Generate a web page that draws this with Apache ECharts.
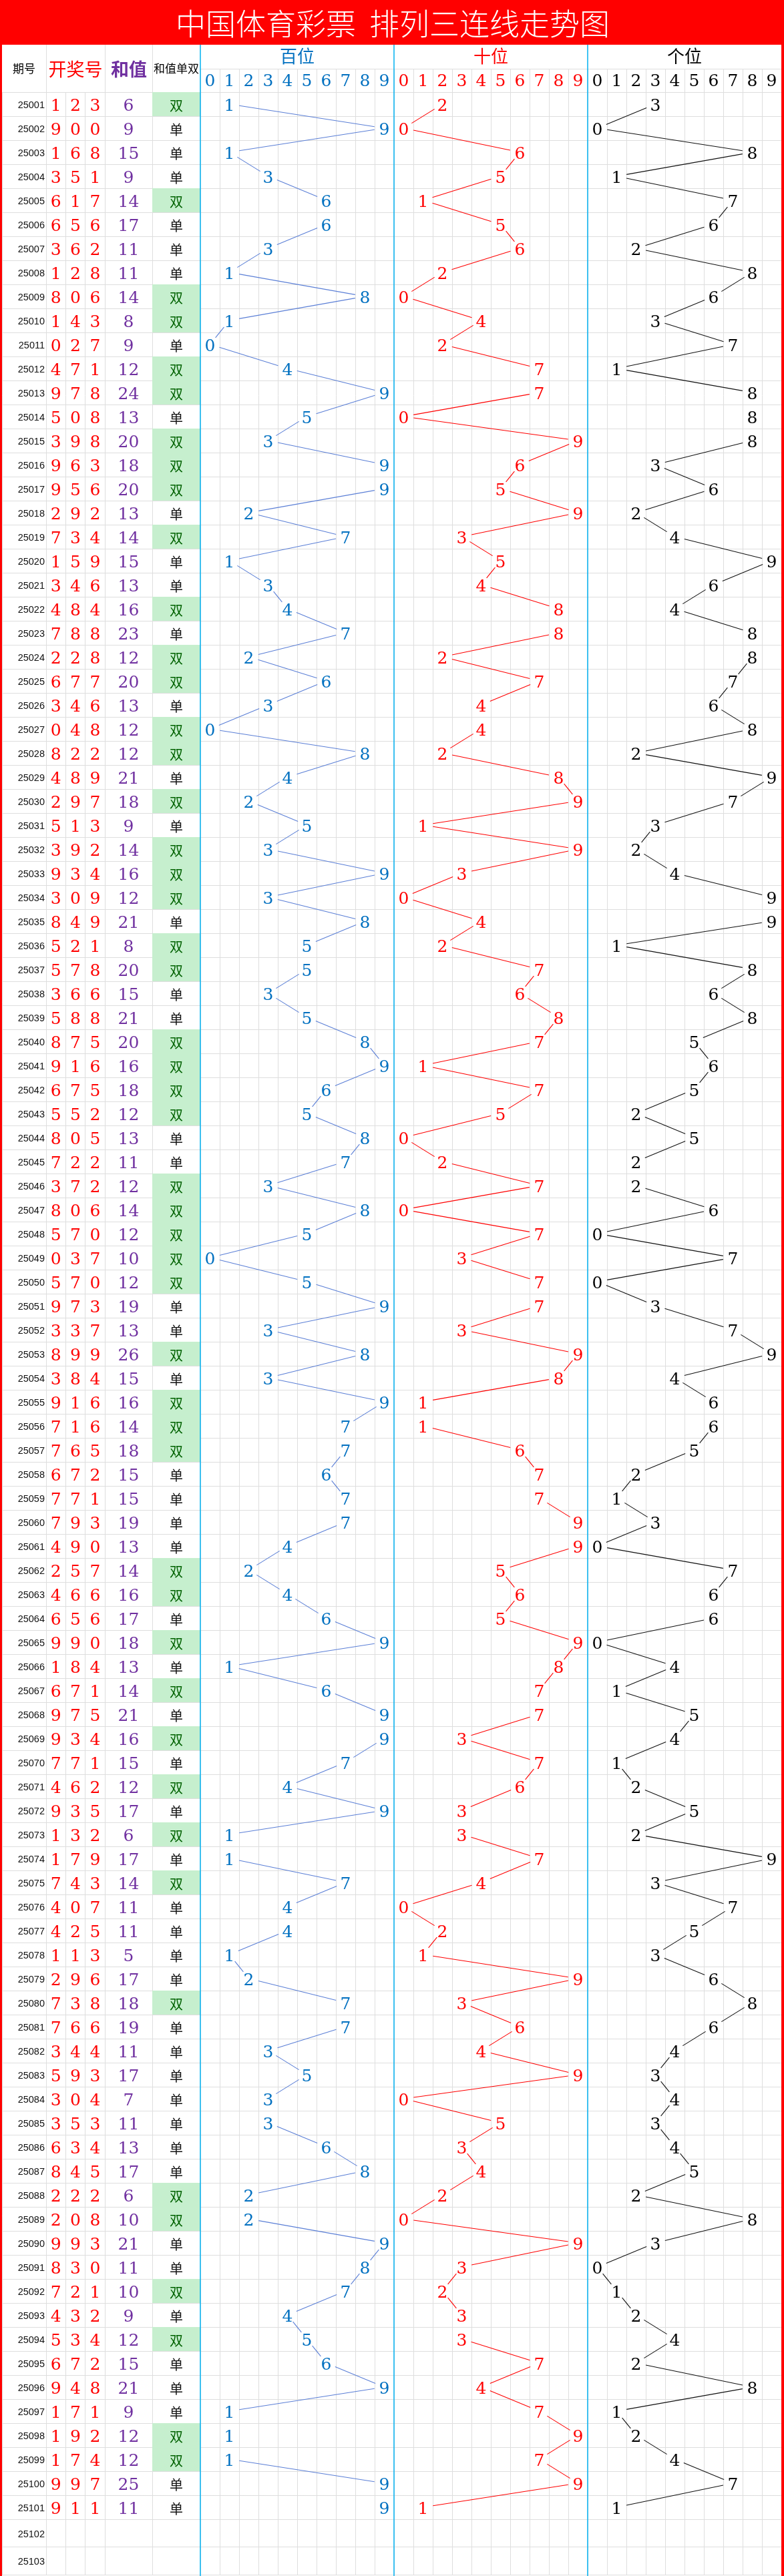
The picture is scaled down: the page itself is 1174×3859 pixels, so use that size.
<!DOCTYPE html>
<html>
<head>
<meta charset="utf-8">
<script src="https://cdn.jsdelivr.net/npm/echarts@6/dist/echarts.min.js"></script>
<style>
html,body{margin:0;padding:0;background:#ffffff;}
#c{width:1174px;height:3859px;}
</style>
</head>
<body>
<div id="c"></div>
<script>
// ---------------- DATA ----------------
const issues = [
'25001','25002','25003','25004','25005','25006','25007','25008','25009','25010',
'25011','25012','25013','25014','25015','25016','25017','25018','25019','25020',
'25021','25022','25023','25024','25025','25026','25027','25028','25029','25030',
'25031','25032','25033','25034','25035','25036','25037','25038','25039','25040',
'25041','25042','25043','25044','25045','25046','25047','25048','25049','25050',
'25051','25052','25053','25054','25055','25056','25057','25058','25059','25060',
'25061','25062','25063','25064','25065','25066','25067','25068','25069','25070',
'25071','25072','25073','25074','25075','25076','25077','25078','25079','25080',
'25081','25082','25083','25084','25085','25086','25087','25088','25089','25090',
'25091','25092','25093','25094','25095','25096','25097','25098','25099','25100',
'25101','25102','25103'
];
const hundreds = [
1,9,1,3,6,6,3,1,8,1, 0,4,9,5,3,9,9,2,7,1, 3,4,7,2,6,3,0,8,4,2,
5,3,9,3,8,5,5,3,5,8, 9,6,5,8,7,3,8,5,0,5, 9,3,8,3,9,7,7,6,7,7,
4,2,4,6,9,1,6,9,9,7, 4,9,1,1,7,4,4,1,2,7, 7,3,5,3,3,6,8,2,2,9,
8,7,4,5,6,9,1,1,1,9, 9
];
const tens = [
2,0,6,5,1,5,6,2,0,4, 2,7,7,0,9,6,5,9,3,5, 4,8,8,2,7,4,4,2,8,9,
1,9,3,0,4,2,7,6,8,7, 1,7,5,0,2,7,0,7,3,7, 7,3,9,8,1,1,6,7,7,9,
9,5,6,5,9,8,7,7,3,7, 6,3,3,7,4,0,2,1,9,3, 6,4,9,0,5,3,4,2,0,9,
3,2,3,3,7,4,7,9,7,9, 1
];
const units = [
3,0,8,1,7,6,2,8,6,3, 7,1,8,8,8,3,6,2,4,9, 6,4,8,8,7,6,8,2,9,7,
3,2,4,9,9,1,8,6,8,5, 6,5,2,5,2,2,6,0,7,0, 3,7,9,4,6,6,5,2,1,3,
0,7,6,6,0,4,1,5,4,1, 2,5,2,9,3,7,5,3,6,8, 6,4,3,4,3,4,5,2,8,3,
0,1,2,4,2,8,1,2,4,7, 1
];
const sums = [
6,9,15,9,14,17,11,11,14,8, 9,12,24,13,20,18,20,13,14,15, 13,16,23,12,20,13,12,12,21,18,
9,14,16,12,21,8,20,15,21,20, 16,18,12,13,11,12,14,12,10,12, 19,13,26,15,16,14,18,15,15,19,
13,14,16,17,18,13,14,21,16,15, 12,17,6,17,14,11,11,5,17,18, 19,11,17,7,11,13,17,6,10,21,
11,10,9,12,15,21,9,12,12,25, 11
];
const parity = (
'双单单单双单单单双双' + '单双双单双双双单双单' + '单双单双双单双双单双' +
'单双双双单双双单单双' + '双双双单单双双双双双' + '单单双单双双双单单单' +
'单双双单双单双单双单' + '双单双单双单单单单双' + '单单单单单单单双双单' +
'单双单双单单单双双单' + '单').split('');
const digitTicks = ['0','1','2','3','4','5','6','7','8','9'];
const titleText = '中国体育彩票  排列三连线走势图';
const headers = { issue:'期号', draw:'开奖号', sum:'和值', parity:'和值单双', pos:['百位','十位','个位'] };

// ---------------- STYLE / LAYOUT ----------------
const GRID_C = '#DEDEDE';
const SEP_C = '#00B0F0';
const SERIF = '"DejaVu Serif", "Liberation Serif", serif';
const CJK = '"Noto Sans CJK SC", "Noto Sans", sans-serif';
const panelText = ['#0070C0', '#FF0000', '#000000'];
const panelLine = ['#5B7FD6', '#FF0000', '#111111'];
const LAYOUT = [
  {left:3, width:66}, {left:69, width:88}, {left:157, width:71}, {left:228, width:72},
  {left:300, width:290}, {left:590, width:290}, {left:880, width:290}
];
const colCats = [['期号'], ['百','十','个'], ['和值'], ['单双'], digitTicks, digitTicks, digitTicks];
const nBody = hundreds.length;
const BANDS = [
  {top:138, height:36 * nBody, rows: issues.slice(0, nBody)},
  {top:138 + 36 * nBody, height:83, rows: issues.slice(nBody)}
];

const grid = [], xAxis = [], yAxis = [];
BANDS.forEach((b, bi) => LAYOUT.forEach((c, ci) => {
  const gi = grid.length;
  const head = bi === 0 && ci >= 4;
  grid.push({left:c.left, top:b.top, width:c.width, height:b.height, containLabel:false, show:false});
  xAxis.push({
    gridIndex: gi, type:'category', data: colCats[ci], position:'top', boundaryGap:true,
    axisLine:{show:false},
    axisTick:{show:head, interval:0, length:35, lineStyle:{color:GRID_C, width:1}},
    axisLabel:{show:head, interval:0, margin:3, color: head ? panelText[ci-4] : '#000',
               fontFamily: SERIF, fontSize:25},
    splitLine:{show:true, interval:0, lineStyle:{color:GRID_C, width:1}}
  });
  yAxis.push({
    gridIndex: gi, type:'category', data: b.rows, inverse:true, boundaryGap:true,
    axisLine:{show:false}, axisTick:{show:false}, axisLabel:{show:false},
    splitLine:{show:true, interval:0, lineStyle:{color:GRID_C, width:1}}
  });
}));
const G = (band, col) => band * LAYOUT.length + col;

function textSeries(gi, data, getText, opt) {
  return {
    type:'custom', xAxisIndex:gi, yAxisIndex:gi, data, silent:true, z:5, animation:false,
    renderItem(params, api) {
      const p = api.coord([api.value(0), api.value(1)]);
      const s = api.size([1, 1]);
      let x = p[0], align = 'center';
      if (opt.right) { x = p[0] + s[0] / 2 - opt.right; align = 'right'; }
      return {
        type:'text', x: x, y: p[1] + (opt.dy || 0),
        style:{ text: getText(params.dataIndex), fill: opt.color(params.dataIndex),
                fontSize: opt.size, fontFamily: opt.family, fontWeight: opt.weight || 'normal',
                align: align, verticalAlign:'middle' }
      };
    }
  };
}

const series = [];
// issue column (body + footer)
series.push(textSeries(G(0,0), BANDS[0].rows.map((s,i)=>[0,i]), i=>BANDS[0].rows[i],
  {right:2, dy:2, size:14.5, family:'"Liberation Sans", Arial, sans-serif', color:()=>'#111'}));
series.push(textSeries(G(1,0), BANDS[1].rows.map((s,i)=>[0,i]), i=>BANDS[1].rows[i],
  {right:2, dy:2, size:14.5, family:'"Liberation Sans", Arial, sans-serif', color:()=>'#111'}));
// draw digits
const drawCells = [];
const drawText = [];
[hundreds, tens, units].forEach((arr, j) => arr.forEach((d, i) => { drawCells.push([j, i]); drawText.push(String(d)); }));
series.push(textSeries(G(0,1), drawCells, i=>drawText[i],
  {dy:3, size:25, family:SERIF, color:()=>'#FF0000'}));
// sums
series.push(textSeries(G(0,2), sums.map((v,i)=>[0,i]), i=>String(sums[i]),
  {dy:3, size:25, family:SERIF, color:()=>'#7030A0'}));
// parity with fill
series.push({
  type:'custom', xAxisIndex:G(0,3), yAxisIndex:G(0,3), silent:true, z:4, animation:false,
  data: parity.map((v,i)=>[0,i]),
  renderItem(params, api) {
    const p = api.coord([api.value(0), api.value(1)]);
    const s = api.size([1, 1]);
    const v = parity[params.dataIndex];
    const even = v === '双';
    const children = [];
    if (even) children.push({type:'rect', shape:{x:p[0]-s[0]/2, y:p[1]-s[1]/2, width:s[0], height:s[1]},
                              style:{fill:'#C6EFCE'}});
    children.push({type:'text', x:p[0], y:p[1]+2,
      style:{text:v, fill: even ? '#006100' : '#111', fontSize:20, fontFamily:CJK, align:'center', verticalAlign:'middle'}});
    return {type:'group', children};
  }
});
// trend panels
[hundreds, tens, units].forEach((arr, k) => {
  const gi = G(0, 4 + k);
  series.push({
    type:'custom', xAxisIndex:gi, yAxisIndex:gi, silent:true, z:3, animation:false,
    data: arr.slice(0, -1).map((d, i) => [d, i, arr[i+1], i+1]),
    renderItem(params, api) {
      const a = api.coord([api.value(0), api.value(1)]);
      const b = api.coord([api.value(2), api.value(3)]);
      const dx = b[0]-a[0], dy = b[1]-a[1];
      if (Math.abs(dx) < 0.5) return null;
      const len = Math.hypot(dx, dy), ux = dx/len, uy = dy/len;
      const rx = 15, ry = 12;
      const t = 1 / Math.sqrt((ux/rx)*(ux/rx) + (uy/ry)*(uy/ry));
      return {type:'line',
        shape:{x1:a[0]+ux*t, y1:a[1]+uy*t, x2:b[0]-ux*t, y2:b[1]-uy*t},
        style:{stroke: panelLine[k], lineWidth:1.1}};
    }
  });
  series.push(textSeries(gi, arr.map((d,i)=>[d,i]), i=>String(arr[i]),
    {dy:3, size:25, family:SERIF, color:()=>panelText[k]}));
});

// ---------------- DECORATION ----------------
const graphic = [
  {type:'rect', z:20, shape:{x:0, y:0, width:1174, height:67}, style:{fill:'#FF0000'}},
  {type:'rect', z:20, shape:{x:0, y:0, width:3, height:3859}, style:{fill:'#FF0000'}},
  {type:'rect', z:20, shape:{x:1170, y:0, width:4, height:3859}, style:{fill:'#FF0000'}},
  {type:'text', z:21, x:588, y:36, style:{text:titleText, fill:'#FFFFFF', fontSize:45, fontFamily:CJK, fontWeight:300, align:'center', verticalAlign:'middle'}},
  {type:'line', z:10, shape:{x1:300, y1:103.5, x2:1170, y2:103.5}, style:{stroke:GRID_C, lineWidth:1}},
  {type:'line', z:10, shape:{x1:69.5, y1:67, x2:69.5, y2:138}, style:{stroke:GRID_C, lineWidth:1}},
  {type:'line', z:10, shape:{x1:157.5, y1:67, x2:157.5, y2:138}, style:{stroke:GRID_C, lineWidth:1}},
  {type:'line', z:10, shape:{x1:228.5, y1:67, x2:228.5, y2:138}, style:{stroke:GRID_C, lineWidth:1}},
  {type:'line', z:15, shape:{x1:300, y1:67, x2:300, y2:3859}, style:{stroke:SEP_C, lineWidth:1.5}},
  {type:'line', z:15, shape:{x1:590, y1:67, x2:590, y2:3859}, style:{stroke:SEP_C, lineWidth:1.5}},
  {type:'line', z:15, shape:{x1:880, y1:67, x2:880, y2:3859}, style:{stroke:SEP_C, lineWidth:1.5}},
  {type:'text', z:11, x:36, y:103, style:{text:headers.issue, fill:'#000', fontSize:17, fontFamily:CJK, align:'center', verticalAlign:'middle'}},
  {type:'text', z:11, x:113, y:104, style:{text:headers.draw, fill:'#FF0000', fontSize:27, fontFamily:CJK, align:'center', verticalAlign:'middle'}},
  {type:'text', z:11, x:193, y:104, style:{text:headers.sum, fill:'#7030A0', fontSize:27, fontFamily:CJK, fontWeight:'bold', align:'center', verticalAlign:'middle'}},
  {type:'text', z:11, x:264, y:103, style:{text:headers.parity, fill:'#000', fontSize:17, fontFamily:CJK, align:'center', verticalAlign:'middle'}},
  {type:'text', z:11, x:445, y:84, style:{text:headers.pos[0], fill:panelText[0], fontSize:26, fontFamily:CJK, align:'center', verticalAlign:'middle'}},
  {type:'text', z:11, x:735, y:84, style:{text:headers.pos[1], fill:panelText[1], fontSize:26, fontFamily:CJK, align:'center', verticalAlign:'middle'}},
  {type:'text', z:11, x:1025, y:84, style:{text:headers.pos[2], fill:panelText[2], fontSize:26, fontFamily:CJK, align:'center', verticalAlign:'middle'}}
];

const chart = echarts.init(document.getElementById('c'), null, {renderer:'canvas'});
chart.setOption({
  animation:false,
  backgroundColor:'#FFFFFF',
  grid, xAxis, yAxis, series, graphic
});
</script>
</body>
</html>
